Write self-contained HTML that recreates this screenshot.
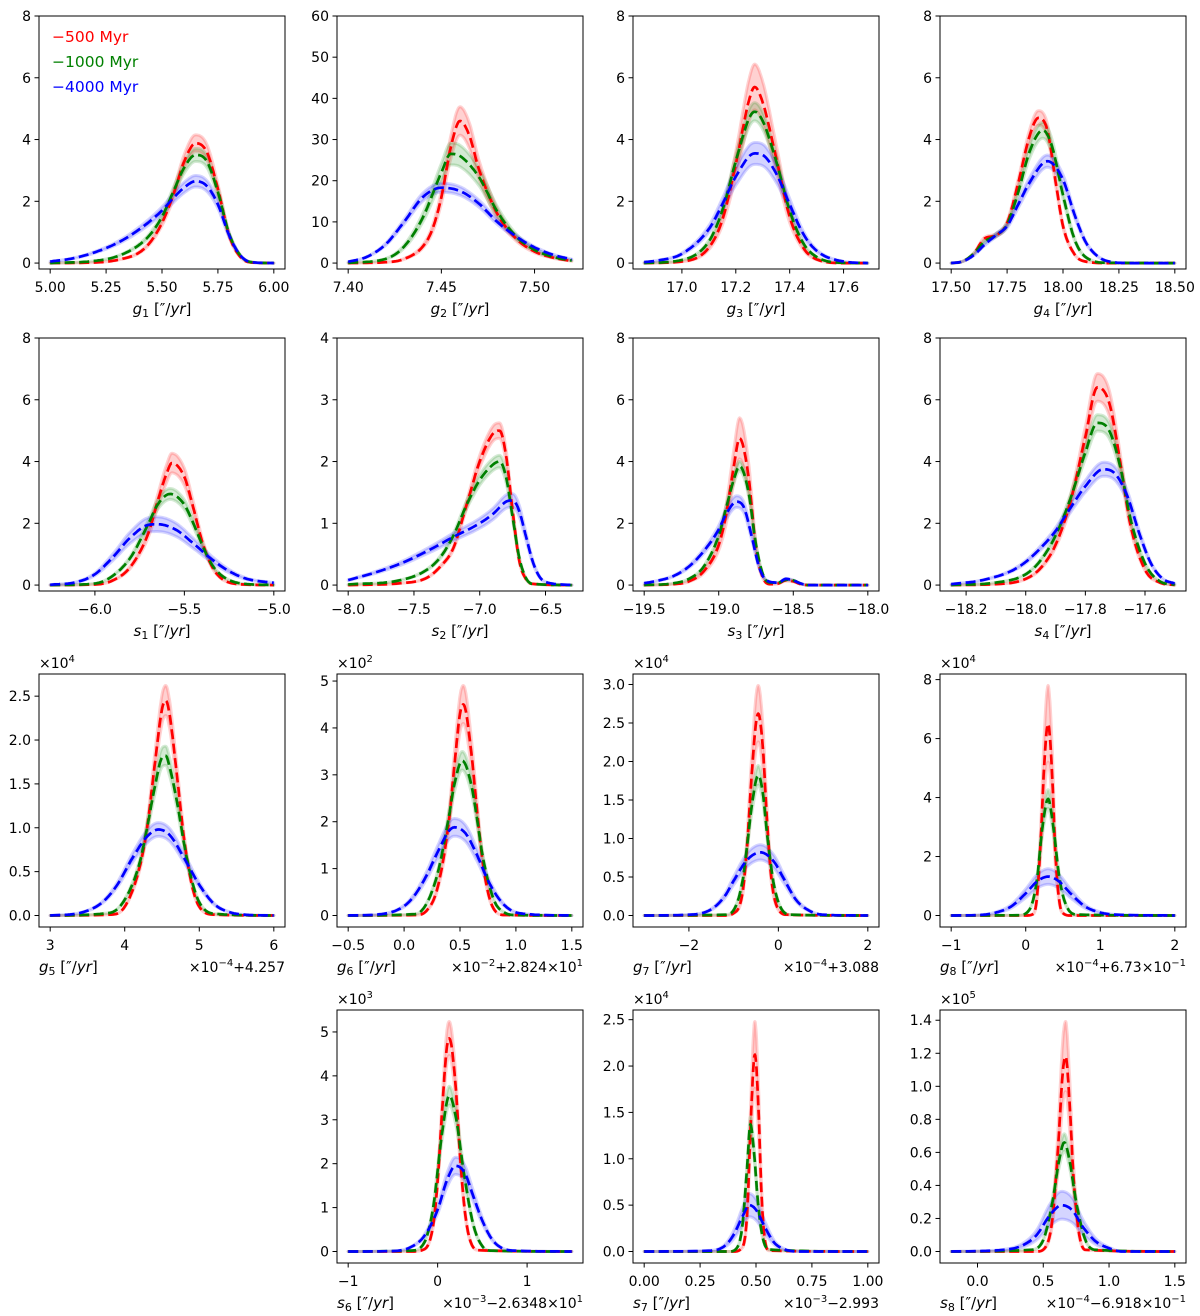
<!DOCTYPE html>
<html><head><meta charset="utf-8"><style>
html,body{margin:0;padding:0;background:#fff;}
svg{display:block;font-family:"DejaVu Sans","Liberation Sans",sans-serif;}
</style></head><body>
<svg id="fig" width="1200" height="1316" viewBox="0 0 1200 1316" xmlns="http://www.w3.org/2000/svg"></svg>
<script>
// ---------- data (display units) ----------
const g1Red=[[5.0,0],[5.2,0.02],[5.3,0.1],[5.4,0.35],[5.45,0.7],[5.5,1.3],[5.55,2.2],[5.6,3.3],[5.65,3.88],[5.7,3.6],[5.75,2.4],[5.8,0.9],[5.85,0.2],[5.9,0.02],[6.0,0]];
const g1Green=[[5.0,0],[5.2,0.07],[5.3,0.22],[5.4,0.6],[5.45,0.95],[5.5,1.5],[5.55,2.3],[5.6,3.1],[5.65,3.5],[5.7,3.3],[5.75,2.3],[5.8,0.95],[5.85,0.25],[5.9,0.03],[6.0,0]];
const g1Blue=[[5.0,0.05],[5.1,0.15],[5.2,0.35],[5.3,0.65],[5.4,1.1],[5.5,1.7],[5.55,2.1],[5.6,2.45],[5.65,2.65],[5.7,2.5],[5.75,1.9],[5.8,0.9],[5.85,0.25],[5.9,0.03],[6.0,0]];
const g2Red=[[7.40,0],[7.42,0.2],[7.43,1],[7.44,4],[7.445,8],[7.45,16],[7.455,28],[7.46,34.5],[7.465,31],[7.47,23],[7.48,12],[7.49,6],[7.50,2.8],[7.51,1.3],[7.52,0.5]];
const g2Green=[[7.40,0.05],[7.42,1],[7.43,4],[7.44,11],[7.45,22],[7.455,26.5],[7.46,26],[7.47,21],[7.48,12.5],[7.49,6.5],[7.50,3.2],[7.51,1.5],[7.52,0.6]];
const g2Blue=[[7.40,0.3],[7.41,1.5],[7.42,4.5],[7.43,10],[7.44,16],[7.45,18.3],[7.46,17.5],[7.47,14.5],[7.48,10],[7.49,6.5],[7.50,3.8],[7.51,2],[7.52,0.9]];
const g3Red=[[16.86,0],[17.0,0.05],[17.1,0.5],[17.15,1.4],[17.2,3.2],[17.25,5.3],[17.27,5.7],[17.3,5.2],[17.35,3.4],[17.4,1.5],[17.45,0.5],[17.5,0.12],[17.6,0],[17.69,0]];
const g3Green=[[16.86,0],[17.0,0.1],[17.1,0.7],[17.15,1.7],[17.2,3.3],[17.25,4.7],[17.27,4.9],[17.3,4.6],[17.35,3.3],[17.4,1.7],[17.45,0.65],[17.5,0.2],[17.6,0.01],[17.69,0]];
const g3Blue=[[16.86,0.03],[16.9,0.07],[17.0,0.3],[17.1,1.1],[17.15,1.9],[17.2,2.8],[17.27,3.55],[17.3,3.5],[17.35,2.9],[17.4,1.9],[17.45,0.95],[17.5,0.4],[17.6,0.05],[17.69,0]];
const g4Red=[[17.5,0],[17.55,0.05],[17.6,0.3],[17.65,0.8],[17.7,0.9],[17.75,1.3],[17.8,2.6],[17.85,4.1],[17.89,4.7],[17.93,4.3],[17.97,2.5],[18.0,1.2],[18.05,0.3],[18.1,0.05],[18.2,0],[18.5,0]];
const g4Green=[[17.5,0],[17.55,0.05],[17.6,0.3],[17.65,0.7],[17.7,0.9],[17.75,1.25],[17.8,2.3],[17.85,3.6],[17.91,4.3],[17.95,3.8],[18.0,2.2],[18.05,0.8],[18.1,0.2],[18.2,0.01],[18.5,0]];
const g4Blue=[[17.5,0],[17.55,0.05],[17.6,0.25],[17.65,0.6],[17.7,0.9],[17.75,1.2],[17.8,1.9],[17.85,2.6],[17.93,3.3],[18.0,2.7],[18.05,1.6],[18.1,0.7],[18.15,0.25],[18.2,0.06],[18.3,0],[18.5,0]];
const s1Red=[[-6.25,0],[-6.0,0.02],[-5.9,0.15],[-5.8,0.6],[-5.7,1.7],[-5.65,2.7],[-5.6,3.6],[-5.57,3.95],[-5.5,3.5],[-5.45,2.5],[-5.4,1.4],[-5.35,0.65],[-5.3,0.25],[-5.2,0.03],[-5.0,0]];
const s1Green=[[-6.25,0],[-6.0,0.05],[-5.9,0.3],[-5.8,0.9],[-5.7,2.0],[-5.65,2.6],[-5.58,2.95],[-5.5,2.6],[-5.45,2.0],[-5.4,1.3],[-5.35,0.7],[-5.3,0.35],[-5.2,0.07],[-5.0,0]];
const s1Blue=[[-6.25,0.01],[-6.1,0.1],[-6.0,0.35],[-5.9,0.9],[-5.8,1.55],[-5.7,1.95],[-5.65,1.97],[-5.55,1.8],[-5.45,1.35],[-5.35,0.85],[-5.25,0.45],[-5.15,0.2],[-5.0,0.07]];
const s2Red=[[-8.0,0],[-7.6,0.03],[-7.4,0.12],[-7.3,0.3],[-7.2,0.6],[-7.1,1.3],[-7.0,2.0],[-6.9,2.45],[-6.85,2.5],[-6.8,2.1],[-6.75,1.2],[-6.7,0.4],[-6.65,0.1],[-6.6,0.02],[-6.3,0]];
const s2Green=[[-8.0,0.01],[-7.6,0.08],[-7.4,0.25],[-7.3,0.45],[-7.2,0.8],[-7.1,1.3],[-7.0,1.7],[-6.9,1.95],[-6.85,2.0],[-6.8,1.75],[-6.75,1.1],[-6.7,0.45],[-6.65,0.12],[-6.6,0.02],[-6.3,0]];
const s2Blue=[[-8.0,0.08],[-7.8,0.2],[-7.6,0.35],[-7.4,0.55],[-7.2,0.78],[-7.0,1.0],[-6.9,1.15],[-6.8,1.35],[-6.75,1.37],[-6.7,1.2],[-6.65,0.8],[-6.6,0.4],[-6.55,0.15],[-6.5,0.05],[-6.3,0]];
const s3Red=[[-19.5,0],[-19.3,0.03],[-19.2,0.12],[-19.1,0.45],[-19.0,1.3],[-18.95,2.3],[-18.9,3.8],[-18.86,4.75],[-18.8,3.5],[-18.75,1.2],[-18.7,0.2],[-18.65,0.03],[-18.6,0.05],[-18.55,0.15],[-18.5,0.12],[-18.45,0.03],[-18.4,0],[-18.0,0]];
const s3Green=[[-19.5,0],[-19.3,0.06],[-19.2,0.2],[-19.1,0.6],[-19.0,1.6],[-18.95,2.5],[-18.9,3.4],[-18.86,3.85],[-18.8,3.0],[-18.75,1.3],[-18.7,0.3],[-18.65,0.08],[-18.6,0.08],[-18.55,0.17],[-18.5,0.15],[-18.45,0.05],[-18.4,0],[-18.0,0]];
const s3Blue=[[-19.5,0.06],[-19.4,0.15],[-19.3,0.3],[-19.2,0.6],[-19.1,1.1],[-19.0,1.8],[-18.95,2.3],[-18.88,2.7],[-18.83,2.5],[-18.78,1.6],[-18.73,0.6],[-18.68,0.15],[-18.6,0.08],[-18.55,0.2],[-18.5,0.15],[-18.45,0.05],[-18.4,0],[-18.0,0]];
const s4Red=[[-18.25,0],[-18.1,0.03],[-18.0,0.2],[-17.95,0.55],[-17.9,1.3],[-17.85,2.7],[-17.8,4.8],[-17.76,6.4],[-17.72,5.9],[-17.68,3.8],[-17.65,2.0],[-17.6,0.5],[-17.55,0.08],[-17.5,0]];
const s4Green=[[-18.25,0],[-18.1,0.08],[-18.0,0.35],[-17.95,0.8],[-17.9,1.6],[-17.85,2.8],[-17.8,4.3],[-17.76,5.25],[-17.72,5.0],[-17.68,3.7],[-17.65,2.2],[-17.6,0.7],[-17.55,0.12],[-17.5,0.01]];
const s4Blue=[[-18.25,0.03],[-18.15,0.15],[-18.05,0.45],[-18.0,0.75],[-17.95,1.2],[-17.9,1.75],[-17.85,2.5],[-17.8,3.2],[-17.74,3.75],[-17.7,3.6],[-17.66,2.9],[-17.62,1.7],[-17.58,0.7],[-17.54,0.2],[-17.5,0.05]];
const g5Red=[[3,0],[3.8,0.01],[4.0,0.1],[4.2,0.55],[4.3,1.0],[4.4,1.7],[4.5,2.35],[4.55,2.45],[4.6,2.3],[4.7,1.6],[4.8,0.85],[4.9,0.35],[5.0,0.1],[5.2,0.01],[6,0]];
const g5Green=[[3,0],[3.8,0.03],[4.0,0.18],[4.2,0.6],[4.3,1.0],[4.4,1.45],[4.5,1.8],[4.55,1.82],[4.6,1.7],[4.7,1.3],[4.8,0.8],[4.9,0.4],[5.0,0.15],[5.2,0.02],[6,0]];
const g5Blue=[[3,0],[3.4,0.03],[3.7,0.15],[3.9,0.35],[4.1,0.65],[4.3,0.9],[4.45,0.98],[4.6,0.92],[4.8,0.65],[5.0,0.35],[5.2,0.13],[5.4,0.04],[5.6,0.01],[6,0]];
const g6Red=[[-0.5,0],[0.1,0.01],[0.2,0.1],[0.3,0.6],[0.4,2.0],[0.45,3.2],[0.5,4.3],[0.53,4.5],[0.6,3.5],[0.65,2.3],[0.7,1.2],[0.75,0.5],[0.8,0.15],[0.9,0.01],[1.5,0]];
const g6Green=[[-0.5,0],[0.1,0.03],[0.2,0.25],[0.3,0.9],[0.4,2.1],[0.45,2.8],[0.52,3.3],[0.6,2.8],[0.65,2.1],[0.7,1.3],[0.8,0.35],[0.9,0.06],[1.0,0.01],[1.5,0]];
const g6Blue=[[-0.5,0],[-0.2,0.03],[0.0,0.2],[0.1,0.45],[0.2,0.85],[0.3,1.35],[0.4,1.8],[0.45,1.88],[0.55,1.75],[0.65,1.3],[0.75,0.75],[0.85,0.35],[0.95,0.12],[1.1,0.03],[1.5,0]];
const g7Red=[[-3,0],[-1.2,0],[-1.0,0.03],[-0.8,0.3],[-0.7,0.9],[-0.6,1.8],[-0.5,2.5],[-0.45,2.62],[-0.35,2.2],[-0.25,1.2],[-0.15,0.45],[0,0.08],[0.2,0.01],[2,0]];
const g7Green=[[-3,0],[-1.2,0.01],[-1.0,0.07],[-0.8,0.45],[-0.7,0.9],[-0.6,1.4],[-0.45,1.82],[-0.35,1.6],[-0.25,1.05],[-0.1,0.4],[0.1,0.06],[0.3,0.01],[2,0]];
const g7Blue=[[-3,0],[-2.0,0.01],[-1.5,0.08],[-1.2,0.25],[-1.0,0.45],[-0.7,0.72],[-0.4,0.82],[-0.1,0.7],[0.1,0.5],[0.4,0.2],[0.7,0.06],[1.0,0.01],[2,0]];
const g8Red=[[-1,0],[0,0],[0.1,0.05],[0.15,0.6],[0.2,2.5],[0.25,5.2],[0.3,6.5],[0.35,5.0],[0.4,2.0],[0.45,0.5],[0.5,0.08],[0.6,0],[2,0]];
const g8Green=[[-1,0],[-0.1,0.01],[0.05,0.2],[0.15,1.2],[0.22,2.9],[0.3,3.95],[0.37,3.0],[0.45,1.3],[0.55,0.3],[0.7,0.03],[2,0]];
const g8Blue=[[-1,0],[-0.6,0.02],[-0.4,0.1],[-0.2,0.3],[0,0.75],[0.15,1.15],[0.3,1.32],[0.45,1.15],[0.6,0.75],[0.8,0.3],[1.0,0.1],[1.2,0.03],[2,0]];
const s6Red=[[-1,0],[-0.3,0],[-0.15,0.05],[-0.05,0.6],[0.0,1.6],[0.05,3.2],[0.1,4.6],[0.13,4.85],[0.2,3.8],[0.25,2.2],[0.3,1.0],[0.35,0.35],[0.45,0.03],[1.5,0]];
const s6Green=[[-1,0],[-0.3,0.02],[-0.15,0.2],[-0.05,1.0],[0.05,2.7],[0.13,3.55],[0.2,3.1],[0.3,1.7],[0.4,0.6],[0.5,0.12],[0.6,0.02],[1.5,0]];
const s6Blue=[[-1,0],[-0.5,0.01],[-0.3,0.1],[-0.15,0.35],[0,0.95],[0.1,1.6],[0.2,1.95],[0.3,1.8],[0.4,1.25],[0.5,0.7],[0.6,0.3],[0.7,0.1],[0.85,0.02],[1.5,0]];
const s7Red=[[0,0],[0.4,0],[0.44,0.05],[0.46,0.4],[0.475,1.3],[0.49,2.05],[0.495,2.12],[0.51,1.6],[0.525,0.6],[0.54,0.12],[0.56,0.01],[1,0]];
const s7Green=[[0,0],[0.38,0],[0.42,0.06],[0.44,0.3],[0.46,0.9],[0.475,1.37],[0.49,1.1],[0.51,0.5],[0.53,0.15],[0.56,0.02],[1,0]];
const s7Blue=[[0,0],[0.3,0.01],[0.36,0.06],[0.4,0.18],[0.44,0.38],[0.47,0.5],[0.5,0.45],[0.54,0.26],[0.58,0.1],[0.62,0.03],[0.7,0],[1,0]];
const s8Red=[[-0.2,0],[0.45,0],[0.52,0.03],[0.57,0.2],[0.61,0.6],[0.65,1.1],[0.67,1.18],[0.7,0.9],[0.73,0.45],[0.77,0.12],[0.82,0.01],[1.5,0]];
const s8Green=[[-0.2,0],[0.4,0.01],[0.5,0.07],[0.57,0.3],[0.62,0.55],[0.66,0.66],[0.7,0.55],[0.75,0.3],[0.82,0.07],[0.9,0.01],[1.5,0]];
const s8Blue=[[-0.2,0],[0.2,0.01],[0.35,0.04],[0.45,0.1],[0.55,0.22],[0.64,0.28],[0.72,0.25],[0.8,0.15],[0.9,0.06],[1.0,0.02],[1.1,0],[1.5,0]];
// band relative half-widths (red, green, blue)
const g1Band=[0.07,0.06,0.07], g2Band=[0.1,0.1,0.06], g3Band=[0.13,0.06,0.1], g4Band=[0.05,0.06,0.06];
const s1Band=[0.08,0.06,0.12], s2Band=[0.05,0.05,0.08], s3Band=[0.14,0.04,0.07], s4Band=[0.07,0.05,0.06];
const g5Band=[0.07,0.06,0.08], g6Band=[0.09,0.06,0.1], g7Band=[0.14,0.07,0.12], g8Band=[0.2,0.08,0.2];
const s6Band=[0.08,0.06,0.1], s7Band=[0.17,0.06,0.25], s8Band=[0.18,0.08,0.3];
// tick labels
const g1XT=["5.00","5.25","5.50","5.75","6.00"], g1YT=["0","2","4","6","8"];
const g2XT=["7.40","7.45","7.50"], g2YT=["0","10","20","30","40","50","60"];
const g3XT=["17.0","17.2","17.4","17.6"], g4XT=["17.50","17.75","18.00","18.25","18.50"];
const s1XT=["−6.0","−5.5","−5.0"], s2XT=["−8.0","−7.5","−7.0","−6.5"], s2YT=["0","1","2","3","4"];
const s3XT=["−19.5","−19.0","−18.5","−18.0"], s4XT=["−18.2","−18.0","−17.8","−17.6"];
const g5XT=["3","4","5","6"], g5YT=["0.0","0.5","1.0","1.5","2.0","2.5"];
const g6XT=["−0.5","0.0","0.5","1.0","1.5"], g6YT=["0","1","2","3","4","5"];
const g7XT=["−2","0","2"], g7YT=["0.0","0.5","1.0","1.5","2.0","2.5","3.0"];
const g8XT=["−1","0","1","2"], g8YT=["0","2","4","6","8"];
const s6XT=["−1","0","1"], s7XT=["0.00","0.25","0.50","0.75","1.00"], s7YT=["0.0","0.5","1.0","1.5","2.0","2.5"];
const s8XT=["0.0","0.5","1.0","1.5"], s8YT=["0.0","0.2","0.4","0.6","0.8","1.0","1.2","1.4"];

// ---------- layout ----------
const colL=[39,337,633,940], rowT=[16,338,674,1010], PW=246, PH=253;
const COLORS=["#ff0000","#008000","#0000ff"], FILLS=["rgba(255,0,0,0.18)","rgba(0,128,0,0.17)","rgba(0,0,255,0.17)"];
const num=s=>parseFloat(s.replace("−","-"));
const panels=[
 {n:"g1",r:0,c:0,s:[g1Red,g1Green,g1Blue],b:g1Band,xt:g1XT,yt:g1YT,ytop:8,lab:"g",sub:"1"},
 {n:"g2",r:0,c:1,s:[g2Red,g2Green,g2Blue],b:g2Band,xt:g2XT,yt:g2YT,ytop:60,lab:"g",sub:"2"},
 {n:"g3",r:0,c:2,s:[g3Red,g3Green,g3Blue],b:g3Band,xt:g3XT,yt:g1YT,ytop:8,lab:"g",sub:"3"},
 {n:"g4",r:0,c:3,s:[g4Red,g4Green,g4Blue],b:g4Band,xt:g4XT,yt:g1YT,ytop:8,lab:"g",sub:"4"},
 {n:"s1",r:1,c:0,s:[s1Red,s1Green,s1Blue],b:s1Band,xt:s1XT,yt:g1YT,ytop:8,lab:"s",sub:"1"},
 {n:"s2",r:1,c:1,s:[s2Red,s2Green,s2Blue],b:s2Band,xt:s2XT,yt:s2YT,ytop:4,lab:"s",sub:"2"},
 {n:"s3",r:1,c:2,s:[s3Red,s3Green,s3Blue],b:s3Band,xt:s3XT,yt:g1YT,ytop:8,lab:"s",sub:"3"},
 {n:"s4",r:1,c:3,s:[s4Red,s4Green,s4Blue],b:s4Band,xt:s4XT,yt:g1YT,ytop:8,lab:"s",sub:"4"},
 {n:"g5",r:2,c:0,s:[g5Red,g5Green,g5Blue],b:g5Band,xt:g5XT,yt:g5YT,lab:"g",sub:"5",sc:"4",off:[["×10",0],["−4",1],["+4.257",0]]},
 {n:"g6",r:2,c:1,s:[g6Red,g6Green,g6Blue],b:g6Band,xt:g6XT,yt:g6YT,lab:"g",sub:"6",sc:"2",off:[["×10",0],["−2",1],["+2.824×10",0],["1",1]]},
 {n:"g7",r:2,c:2,s:[g7Red,g7Green,g7Blue],b:g7Band,xt:g7XT,yt:g7YT,lab:"g",sub:"7",sc:"4",off:[["×10",0],["−4",1],["+3.088",0]]},
 {n:"g8",r:2,c:3,s:[g8Red,g8Green,g8Blue],b:g8Band,xt:g8XT,yt:g8YT,lab:"g",sub:"8",sc:"4",off:[["×10",0],["−4",1],["+6.73×10",0],["−1",1]]},
 {n:"s6",r:3,c:1,s:[s6Red,s6Green,s6Blue],b:s6Band,xt:s6XT,yt:g6YT,lab:"s",sub:"6",sc:"3",off:[["×10",0],["−3",1],["−2.6348×10",0],["1",1]]},
 {n:"s7",r:3,c:2,s:[s7Red,s7Green,s7Blue],b:s7Band,xt:s7XT,yt:s7YT,lab:"s",sub:"7",sc:"4",off:[["×10",0],["−3",1],["−2.993",0]]},
 {n:"s8",r:3,c:3,s:[s8Red,s8Green,s8Blue],b:s8Band,xt:s8XT,yt:s8YT,lab:"s",sub:"8",sc:"5",off:[["×10",0],["−4",1],["−6.918×10",0],["−1",1]]}
];
const NS="http://www.w3.org/2000/svg", svg=document.getElementById("fig");
function mk(tag,attrs,parent){const e=document.createElementNS(NS,tag);for(const k in attrs)e.setAttribute(k,attrs[k]);(parent||svg).appendChild(e);return e;}
function interp(pts){
 const n=pts.length,xs=pts.map(p=>p[0]),ys=pts.map(p=>p[1]),d=[],m=new Array(n);
 for(let i=0;i<n-1;i++)d.push((ys[i+1]-ys[i])/(xs[i+1]-xs[i]));
 m[0]=d[0];m[n-1]=d[n-2];
 for(let i=1;i<n-1;i++)m[i]=(d[i-1]*d[i]<=0)?0:(d[i-1]+d[i])/2;
 for(let i=0;i<n-1;i++){if(d[i]===0){m[i]=0;m[i+1]=0;continue;}const a=m[i]/d[i],b=m[i+1]/d[i],s=a*a+b*b;if(s>9){const t=3/Math.sqrt(s);m[i]=t*a*d[i];m[i+1]=t*b*d[i];}}
 const out=[];
 for(let i=0;i<n-1;i++){const h=xs[i+1]-xs[i];const N=12;for(let k=0;k<N;k++){const t=k/N,t2=t*t,t3=t2*t;
  out.push([xs[i]+t*h,(2*t3-3*t2+1)*ys[i]+(t3-2*t2+t)*h*m[i]+(-2*t3+3*t2)*ys[i+1]+(t3-t2)*h*m[i+1]]);}}
 out.push([xs[n-1],ys[n-1]]);return out;}

panels.forEach(p=>{
 const L=colL[p.c],T=rowT[p.r],g=mk("g",{});
 
 
 let xmin=Infinity,xmax=-Infinity,ymaxD=0;
 p.s.forEach((s,i)=>s.forEach(q=>{xmin=Math.min(xmin,q[0]);xmax=Math.max(xmax,q[0]);ymaxD=Math.max(ymaxD,q[1]*(1+p.b[i]));}));
 const xr=xmax-xmin,x0=xmin-0.05*xr,x1=xmax+0.05*xr;
 let y0,y1;
 if(p.ytop){y1=p.ytop;y0=-0.024*p.ytop;}else{y1=ymaxD*1.05;y0=-0.05*ymaxD;}
 const X=v=>L+(v-x0)/(x1-x0)*PW, Y=v=>T+PH-(v-y0)/(y1-y0)*PH;
 const clipId="clip-"+p.n;
 const cp=mk("clipPath",{id:clipId},g);mk("rect",{x:L,y:T,width:PW,height:PH},cp);
 const plot=mk("g",{"clip-path":"url(#"+clipId+")"},g);
 p.s.forEach((s,i)=>{
  const c=interp(s),f=p.b[i];
  let d="M"+c.map(q=>X(q[0]).toFixed(1)+","+Y(q[1]*(1+f)).toFixed(1)).join("L");
  d+="L"+c.slice().reverse().map(q=>X(q[0]).toFixed(1)+","+Y(q[1]*(1-f)).toFixed(1)).join("L")+"Z";
  const b=mk("path",{d:d,fill:FILLS[i],stroke:FILLS[i],"stroke-width":3,"stroke-linejoin":"round"},plot);
  
  
 });
 p.s.forEach((s,i)=>{
  const c=interp(s);
  const l=mk("path",{d:"M"+c.map(q=>X(q[0]).toFixed(1)+","+Y(q[1]).toFixed(1)).join("L"),fill:"none",stroke:COLORS[i],"stroke-width":2.7,"stroke-dasharray":"10,4.5"},plot);
  
  
 });
 const fr=mk("rect",{x:L,y:T,width:PW,height:PH,fill:"none",stroke:"#000","stroke-width":1},g);
 
 
 p.xt.forEach(t=>{const x=X(num(t));
  mk("line",{x1:x,x2:x,y1:T+PH,y2:T+PH+4.5,stroke:"#000","stroke-width":1},g);
  const tx=mk("text",{x:x,y:T+PH+23,"font-size":14,"text-anchor":"middle",fill:"#000"},g);tx.textContent=t;
  
  
 });
 p.yt.forEach(t=>{const y=Y(num(t));
  mk("line",{x1:L-4.5,x2:L,y1:y,y2:y,stroke:"#000","stroke-width":1},g);
  const tx=mk("text",{x:L-8,y:y+5,"font-size":14,"text-anchor":"end",fill:"#000"},g);tx.textContent=t;
  
  
 });
 const auto=!p.ytop;
 const lx=auto?L:L+PW/2, ly=T+PH+45;
 const lab=mk("text",{x:lx,y:ly,"font-size":15,"text-anchor":auto?"start":"middle",fill:"#000"},g);
 
 
 lab.innerHTML='<tspan font-style="italic">'+p.lab+'</tspan><tspan font-size="11" dy="3">'+p.sub+'</tspan><tspan dy="-3"> [″/</tspan><tspan font-style="italic">yr</tspan><tspan>]</tspan>';
 if(auto){
  const sc=mk("text",{x:L,y:T-6,"font-size":14,fill:"#000"},g);
  
  
  sc.innerHTML='×10<tspan font-size="10" dy="-6">'+p.sc+'</tspan>';
  const of=mk("text",{x:L+PW,y:T+PH+45,"font-size":14,"text-anchor":"end",fill:"#000"},g);
  
  
  let h="",up=false;
  p.off.forEach(([t,s])=>{if(s){h+='<tspan font-size="10" dy="-6">'+t+'</tspan>';up=true;}else{h+='<tspan'+(up?' dy="6"':'')+'>'+t+'</tspan>';up=false;}});
  of.innerHTML=h;
 }
});
const legLabels=["−500 Myr","−1000 Myr","−4000 Myr"], legY=[42,67,92];
legLabels.forEach((t,i)=>{
 const e=mk("text",{x:52,y:legY[i],"font-size":15.5,fill:COLORS[i]});
 e.textContent=t;
 
 
});
</script>
</body></html>
